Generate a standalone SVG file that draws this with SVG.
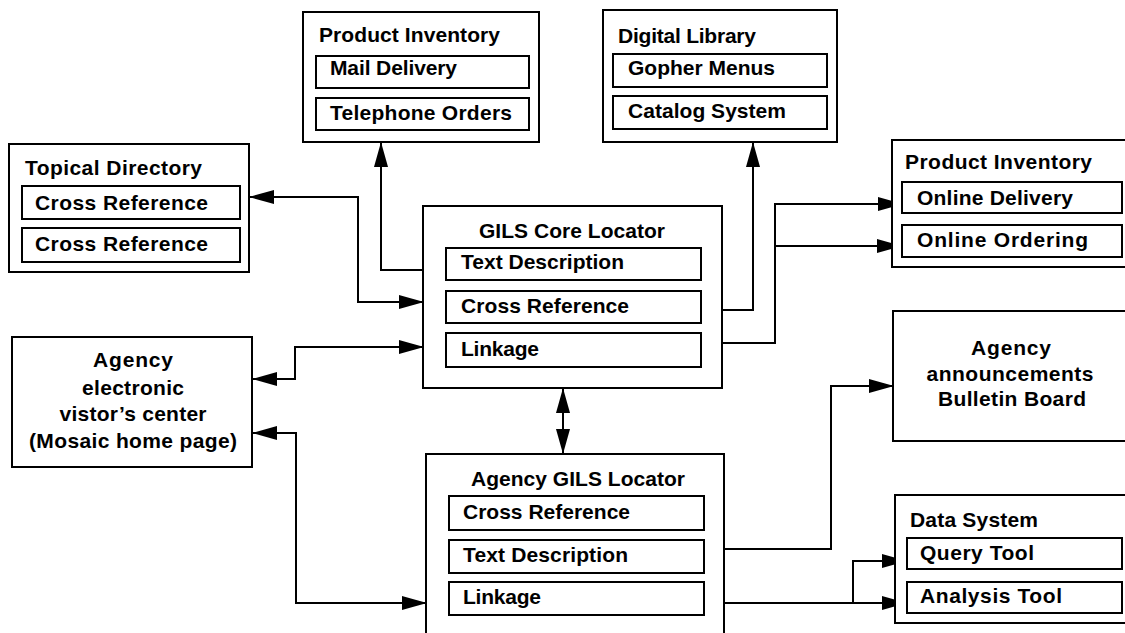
<svg xmlns="http://www.w3.org/2000/svg" width="1125" height="633" viewBox="0 0 1125 633">
<style>
.box{fill:#fff;stroke:#000;stroke-width:2}
.in{fill:#fff;stroke:#000;stroke-width:2}
.t{font-family:"Liberation Sans",Arial,Helvetica,sans-serif;font-weight:bold;font-size:21px;fill:#000}
.c{text-anchor:middle}
.ln{fill:none;stroke:#000;stroke-width:2}
</style>
<defs>
<marker id="ah" markerUnits="userSpaceOnUse" viewBox="0 0 25 14" markerWidth="25" markerHeight="14" refX="24" refY="7" orient="auto-start-reverse">
<path d="M0,0 L25,7 L0,14 Z" fill="#000"/>
</marker>
</defs>
<rect width="1125" height="633" fill="#fff"/>

<g id="connectors">
<path class="ln" d="M250,197 H358 V302 H423" marker-start="url(#ah)" marker-end="url(#ah)"/>
<path class="ln" d="M423,270 H381 V143" marker-end="url(#ah)"/>
<path class="ln" d="M253,379 H295 V347 H423" marker-start="url(#ah)" marker-end="url(#ah)"/>
<path class="ln" d="M253,433 H296 V603 H426" marker-start="url(#ah)" marker-end="url(#ah)"/>
<path class="ln" d="M722,310 H753 V143" marker-end="url(#ah)"/>
<path class="ln" d="M722,343 H775 V204 H902" marker-end="url(#ah)"/>
<path class="ln" d="M775,246 H901" marker-end="url(#ah)"/>
<path class="ln" d="M563,389 V453" marker-start="url(#ah)" marker-end="url(#ah)"/>
<path class="ln" d="M724,549 H831 V386 H893" marker-end="url(#ah)"/>
<path class="ln" d="M724,603 H906" marker-end="url(#ah)"/>
<path class="ln" d="M853,603 V561 H906" marker-end="url(#ah)"/>
</g>

<g id="topical-directory">
<rect class="box" x="9" y="144" width="240" height="128"/>
<text class="t" x="25" y="175" textLength="177" lengthAdjust="spacing">Topical Directory</text>
<rect class="in" x="22" y="186" width="218" height="33"/>
<text class="t" x="35" y="210" textLength="173" lengthAdjust="spacing">Cross Reference</text>
<rect class="in" x="22" y="228" width="218" height="34"/>
<text class="t" x="35" y="251" textLength="173" lengthAdjust="spacing">Cross Reference</text>
</g>

<g id="product-inventory-top">
<rect class="box" x="303" y="12" width="236" height="130"/>
<text class="t" x="319" y="42" textLength="181" lengthAdjust="spacing">Product Inventory</text>
<rect class="in" x="316" y="56" width="213" height="32"/>
<text class="t" x="330" y="75" textLength="127" lengthAdjust="spacing">Mail Delivery</text>
<rect class="in" x="316" y="98" width="213" height="32"/>
<text class="t" x="330" y="120" textLength="182" lengthAdjust="spacing">Telephone Orders</text>
</g>

<g id="digital-library">
<rect class="box" x="603" y="10" width="234" height="132"/>
<text class="t" x="618" y="43" textLength="138" lengthAdjust="spacing">Digital Library</text>
<rect class="in" x="613" y="54" width="214" height="33"/>
<text class="t" x="628" y="75" textLength="147" lengthAdjust="spacing">Gopher Menus</text>
<rect class="in" x="613" y="96" width="214" height="33"/>
<text class="t" x="628" y="118" textLength="158" lengthAdjust="spacing">Catalog System</text>
</g>

<g id="product-inventory-right">
<rect class="box" x="892" y="140" width="240" height="127"/>
<text class="t" x="905" y="169" textLength="187" lengthAdjust="spacing">Product Inventory</text>
<rect class="in" x="902" y="182" width="220" height="31"/>
<text class="t" x="917" y="205" textLength="156" lengthAdjust="spacing">Online Delivery</text>
<rect class="in" x="902" y="225" width="220" height="32"/>
<text class="t" x="917" y="247" textLength="171" lengthAdjust="spacing">Online Ordering</text>
</g>

<g id="gils-core-locator">
<rect class="box" x="423" y="206" width="299" height="182"/>
<text class="t c" x="572" y="238" textLength="186" lengthAdjust="spacing">GILS Core Locator</text>
<rect class="in" x="446" y="248" width="255" height="32"/>
<text class="t" x="461" y="269" textLength="163" lengthAdjust="spacing">Text Description</text>
<rect class="in" x="446" y="291" width="255" height="32"/>
<text class="t" x="461" y="313" textLength="168" lengthAdjust="spacing">Cross Reference</text>
<rect class="in" x="446" y="333" width="255" height="34"/>
<text class="t" x="461" y="356" textLength="78" lengthAdjust="spacing">Linkage</text>
</g>

<g id="visitor-center">
<rect class="box" x="12" y="337" width="240" height="130"/>
<text class="t c" x="133" y="367" textLength="80" lengthAdjust="spacing">Agency</text>
<text class="t c" x="133" y="395" textLength="102" lengthAdjust="spacing">electronic</text>
<text class="t c" x="133" y="421" textLength="147" lengthAdjust="spacing">vistor’s center</text>
<text class="t c" x="133" y="448" textLength="208" lengthAdjust="spacing">(Mosaic home page)</text>
</g>

<g id="agency-gils-locator">
<rect class="box" x="426" y="454" width="298" height="190"/>
<text class="t c" x="578" y="486" textLength="214" lengthAdjust="spacing">Agency GILS Locator</text>
<rect class="in" x="449" y="496" width="255" height="34"/>
<text class="t" x="463" y="519" textLength="167" lengthAdjust="spacing">Cross Reference</text>
<rect class="in" x="449" y="540" width="255" height="33"/>
<text class="t" x="463" y="562" textLength="165" lengthAdjust="spacing">Text Description</text>
<rect class="in" x="449" y="582" width="255" height="33"/>
<text class="t" x="463" y="604" textLength="78" lengthAdjust="spacing">Linkage</text>
</g>

<g id="bulletin-board">
<rect class="box" x="893" y="311" width="240" height="130"/>
<text class="t c" x="1011" y="355" textLength="80" lengthAdjust="spacing">Agency</text>
<text class="t c" x="1010" y="381" textLength="167" lengthAdjust="spacing">announcements</text>
<text class="t c" x="1012" y="406" textLength="148" lengthAdjust="spacing">Bulletin Board</text>
</g>

<g id="data-system">
<rect class="box" x="895" y="495" width="240" height="128"/>
<text class="t" x="910" y="527" textLength="128" lengthAdjust="spacing">Data System</text>
<rect class="in" x="907" y="538" width="215" height="31"/>
<text class="t" x="920" y="560" textLength="114" lengthAdjust="spacing">Query Tool</text>
<rect class="in" x="907" y="582" width="215" height="31"/>
<text class="t" x="920" y="603" textLength="142" lengthAdjust="spacing">Analysis Tool</text>
</g>
</svg>
